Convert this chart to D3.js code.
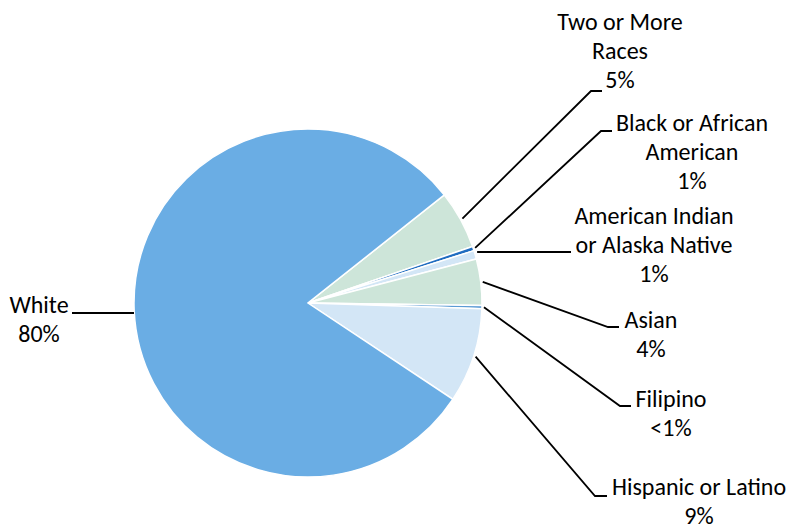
<!DOCTYPE html>
<html>
<head>
<meta charset="utf-8">
<script src="https://cdn.jsdelivr.net/npm/d3@7"></script>
<style>
  body { margin: 0; background: #fff; }
  text { font-family: Carlito, Calibri, Lato, sans-serif; font-size: 24px; fill: #000; }
</style>
</head>
<body>
<div id="chart"></div>
<script>
// Data
var categories = ["Two or More Races", "Black or African American", "American Indian or Alaska Native",
                  "Asian", "Filipino", "Hispanic or Latino", "White"];
var values = [5.4, 0.4, 0.8, 4.3, 0.3, 8.8, 80.0];
var pctLabels = ["5%", "1%", "1%", "4%", "<1%", "9%", "80%"];
var colors = ["#cde5d9", "#1f6cc0", "#d3e6f6", "#cde5d9", "#5b9bd5", "#d3e6f6", "#6aade4"];

// label text lines + layout (elbow x,y ; text centre x, first baseline y)
var labelLines = [["Two or More", "Races"], ["Black or African", "American"], ["American Indian", "or Alaska Native"],
                  ["Asian"], ["Filipino"], ["Hispanic or Latino"], ["White"]];
var labelLayout = [
    {ex: 591, ey: 91, hx: 602, tx: 620, ty: 30},
    {ex: 601, ey: 131, hx: 612, tx: 692, ty: 131},
    {ex: 476, ey: 252, hx: 571, tx: 654, ty: 224},
    {ex: 608, ey: 327, hx: 619, tx: 651, ty: 328},
    {ex: 620, ey: 406, hx: 631, tx: 671, ty: 407},
    {ex: 595, ey: 496, hx: 607, tx: 699, ty: 495},
    {ex: 134, ey: 313, hx: 72, tx: 39, ty: 313}
];

var svgWidth = 788;
var svgHeight = 525;
var cx = 308, cy = 303, radius = 174;
var lineH = 29;

var svg = d3.select("#chart")
    .append("svg")
    .attr("width", svgWidth)
    .attr("height", svgHeight);

var g = svg.append("g")
    .attr("transform", `translate(${cx}, ${cy})`);

var data = categories.map(function(c, i) {
    return {name: c, value: values[i], pct: pctLabels[i], color: colors[i], lines: labelLines[i], lay: labelLayout[i]};
});

var pie = d3.pie()
    .sort(null)
    .value(d => d.value)
    .startAngle(51.6 * Math.PI / 180)
    .endAngle(51.6 * Math.PI / 180 + 2 * Math.PI);

var arc = d3.arc().innerRadius(0).outerRadius(radius);
var arcs = pie(data);

g.selectAll("path.slice")
    .data(arcs)
    .enter()
    .append("path")
    .attr("class", "slice")
    .attr("d", arc)
    .attr("fill", d => d.data.color)
    .attr("stroke", "#fff")
    .attr("stroke-width", 1.5);

// leader lines: start on the slice edge at mid angle
var leaders = svg.append("g");
arcs.forEach(function(d) {
    var lay = d.data.lay;
    var mid = (d.startAngle + d.endAngle) / 2;
    var sx = cx + (radius + 2) * Math.sin(mid);
    var sy = cy - (radius + 2) * Math.cos(mid);
    var pts;
    if (d.data.name === "White") {
        pts = [[cx - radius, lay.ey], [lay.hx, lay.ey]];
    } else if (d.data.name === "American Indian or Alaska Native") {
        pts = [[sx, lay.ey], [lay.hx, lay.ey]];
    } else {
        pts = [[sx, sy], [lay.ex, lay.ey], [lay.hx, lay.ey]];
    }
    leaders.append("path")
        .attr("d", d3.line()(pts))
        .attr("fill", "none")
        .attr("stroke", "#000")
        .attr("stroke-width", 1.8);

    var t = leaders.append("text")
        .attr("text-anchor", "middle");
    var lines = d.data.lines.concat([d.data.pct]);
    lines.forEach(function(l, i) {
        t.append("tspan")
            .attr("x", lay.tx)
            .attr("y", lay.ty + i * lineH)
            .text(l);
    });
});
</script>
</body>
</html>
